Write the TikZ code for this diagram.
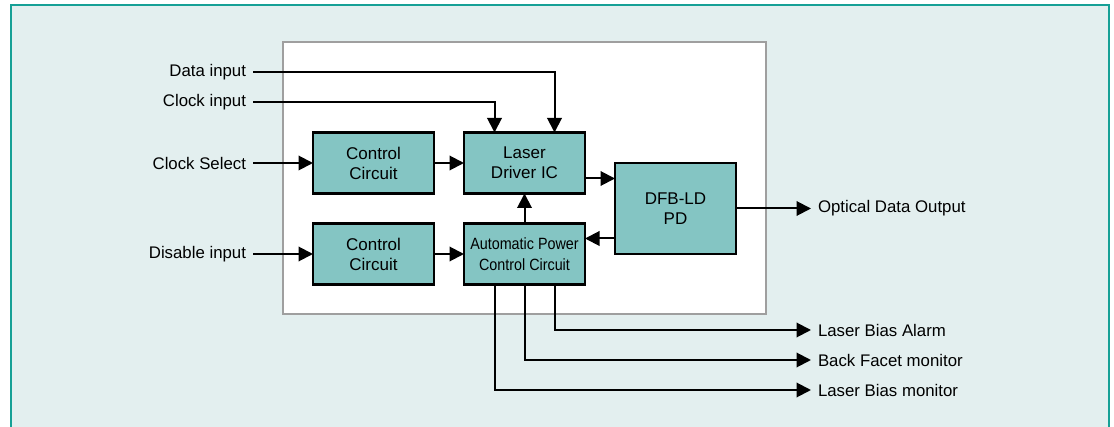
\documentclass[tikz,border=0pt]{standalone}
\usepackage{fontspec}
\setmainfont{Liberation Sans}
\newfontfamily\narrowfont[FakeStretch=0.88]{Liberation Sans}
\usepackage{tikz}
\usetikzlibrary{arrows.meta,positioning,fit,calc,backgrounds}
\definecolor{boxfill}{HTML}{84C5C3}
\definecolor{panel}{HTML}{E3EFEF}
\definecolor{frameteal}{HTML}{16A096}

\begin{document}
\begin{tikzpicture}[
  x=1pt, y=1pt,
  node distance=30pt and 30pt,
  box/.style={draw, line width=2.3pt, fill=boxfill, align=center, minimum width=121pt, minimum height=61pt, inner sep=2pt, outer sep=0pt, font=\fontsize{17}{20}\selectfont},
  lbl/.style={inner xsep=7pt, inner ysep=2pt, outer sep=0pt, font=\fontsize{16.8}{20}\selectfont},
  arr/.style={-{Triangle[length=14.5pt, width=14.5pt]}, line width=2pt},
]
\useasboundingbox (0,0) rectangle (1114,-427);
\node[box] (cc1) at (373.5,-163) {Control\\Circuit};
\node[box, right=of cc1] (ld) {Laser\\Driver IC};
\node[box, below=of cc1] (cc2) {Control\\Circuit};
\node[box, below=of ld, font=\narrowfont\fontsize{16.3}{21}\selectfont] (apc) {Automatic Power\\Control Circuit};
\node[box, minimum height=91pt, anchor=west] (dfb) at ($(ld.east)!0.5!(apc.east)+(30pt,0)$) {DFB-LD\\PD};
\coordinate (top) at ($(ld.north)+(0,60pt)$);
\node[lbl, left=60pt of cc1] (cs) {Clock Select};
\node[lbl, left=60pt of cc2] (dis) {Disable input};
\node[lbl, anchor=east] (cin) at ($(cs.east)+(0,61pt)$) {Clock input};
\node[lbl, anchor=east] (din) at ($(cs.east)+(0,91pt)$) {Data input};
\node[lbl, right=75pt of dfb] (odo) {Optical Data Output};
\node[lbl, anchor=west] (lba) at ($(odo.west)+(0,-121.5pt)$) {Laser Bias Alarm};
\node[lbl, anchor=west] (bfm) at ($(lba.west)+(0,-30pt)$) {Back Facet monitor};
\node[lbl, anchor=west] (lbm) at ($(bfm.west)+(0,-30pt)$) {Laser Bias monitor};
\coordinate (dfbin) at ([yshift=30pt]dfb.west);
\coordinate (dfbout) at ([yshift=-30pt]dfb.west);
\begin{scope}[on background layer]
\fill[panel] (11,-5) rectangle (1109,-427);
\draw[frameteal, line width=2pt] (11,-427) -- (11,-5) -- (1109,-5) -- (1109,-427);
\node[draw=gray!75, line width=2pt, fill=white, inner sep=30pt, fit=(cc1)(cc2)(dfb)(top)] (chip) {};
\end{scope}
\draw[arr] (din) -| ([xshift=30pt]ld.north);
\draw[arr] (cin) -| ([xshift=-30pt]ld.north);
\draw[arr] (cs) -- (cc1);
\draw[arr] (cc1) -- (ld);
\draw[arr] (dis) -- (cc2);
\draw[arr] (cc2) -- (apc);
\draw[arr] (apc) -- (ld);
\draw[arr] (ld.east |- dfbin) -- (dfbin);
\draw[arr] (dfbout) -- (apc.east |- dfbout);
\draw[arr] (dfb) -- (odo);
\draw[arr] ([xshift=30pt]apc.south) |- (lba);
\draw[arr] (apc.south) |- (bfm);
\draw[arr] ([xshift=-30pt]apc.south) |- (lbm);
\end{tikzpicture}
\end{document}
